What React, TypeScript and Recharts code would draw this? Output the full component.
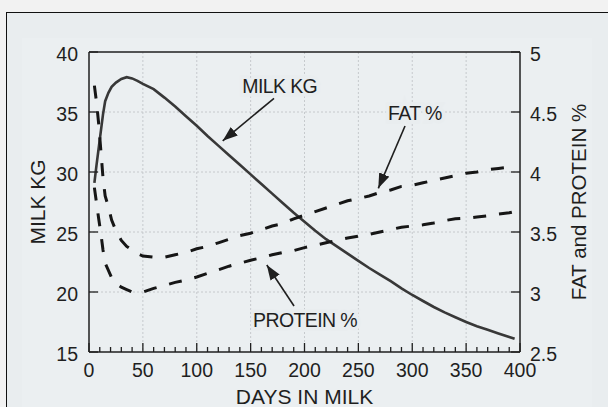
import React from 'react';
import { LineChart, Line, XAxis, YAxis, CartesianGrid, ReferenceLine, ReferenceDot, Label } from 'recharts';

const days = [5, 7, 9, 11, 13, 15, 18, 21, 25, 30, 35, 40, 45, 50, 60, 70, 80, 90, 100, 110, 120, 130, 140, 150, 160, 170, 180, 190, 200, 210, 220, 230, 240, 250, 260, 270, 280, 290, 300, 310, 320, 330, 340, 350, 360, 370, 380, 390, 395];
const milkKg = [29.1, 30.6, 32.0, 33.4, 34.8, 35.9, 36.6, 37.1, 37.45, 37.75, 37.9, 37.8, 37.6, 37.35, 36.9, 36.2, 35.45, 34.65, 33.85, 33.0, 32.2, 31.4, 30.6, 29.8, 29.0, 28.2, 27.4, 26.6, 25.85, 25.1, 24.4, 23.8, 23.2, 22.6, 22.0, 21.45, 20.9, 20.3, 19.75, 19.25, 18.75, 18.3, 17.9, 17.5, 17.15, 16.85, 16.55, 16.25, 16.1];
const fatPct = [4.72, 4.58, 4.4, 4.18, 3.95, 3.8, 3.71, 3.6, 3.51, 3.43, 3.38, 3.35, 3.32, 3.3, 3.29, 3.29, 3.31, 3.33, 3.36, 3.38, 3.41, 3.44, 3.47, 3.49, 3.52, 3.55, 3.57, 3.61, 3.64, 3.67, 3.7, 3.73, 3.76, 3.78, 3.8, 3.83, 3.85, 3.88, 3.89, 3.91, 3.93, 3.95, 3.97, 3.99, 4.0, 4.02, 4.03, 4.04, 4.04];
const proteinPct = [3.87, 3.74, 3.61, 3.49, 3.35, 3.24, 3.18, 3.12, 3.07, 3.04, 3.02, 3.0, 3.0, 3.0, 3.03, 3.055, 3.08, 3.1, 3.125, 3.155, 3.185, 3.215, 3.24, 3.265, 3.285, 3.31, 3.33, 3.345, 3.37, 3.39, 3.41, 3.43, 3.45, 3.465, 3.48, 3.5, 3.52, 3.54, 3.55, 3.56, 3.575, 3.595, 3.61, 3.615, 3.625, 3.635, 3.65, 3.66, 3.67];

const xTicks = Array.from({ length: 41 }, (_, i) => i * 10);
const leftTicks = [15, 20, 25, 30, 35, 40];
const rightTicks = [2.5, 3, 3.5, 4, 4.5, 5];
const gridDays = [50, 100, 150, 200, 250, 300, 350];
const gridKg = [20, 25, 30, 35];

const data = days.map((d, i) => ({ day: d, milk: milkKg[i], fat: fatPct[i], protein: proteinPct[i] }));

const FONT = '"Liberation Sans", Arial, Helvetica, sans-serif';
const BG = '#e9edef';
const INK = '#1f1f1f';

const XTick = (props: any) => {
  const { x, y, payload } = props;
  const v = payload.value;
  const major = v % 50 === 0;
  return (
    <g>
      <line x1={x} x2={x} y1={y} y2={y - (major ? 9 : 5)} stroke={INK} strokeWidth={1.3} />
      {major && (
        <text x={x} y={y + 25} textAnchor="middle" fontSize={19.5} fontFamily={FONT} fill={INK}>
          {v}
        </text>
      )}
    </g>
  );
};

const LeftTick = (props: any) => {
  const { x, y, payload } = props;
  return (
    <g>
      <line x1={x} x2={x + 9} y1={y} y2={y} stroke={INK} strokeWidth={1.3} />
      <text x={x - 11} y={y + 9} textAnchor="end" fontSize={19.5} fontFamily={FONT} fill={INK}>
        {payload.value}
      </text>
    </g>
  );
};

const RightTick = (props: any) => {
  const { x, y, payload } = props;
  return (
    <g>
      <line x1={x} x2={x - 9} y1={y} y2={y} stroke={INK} strokeWidth={1.3} />
      <text x={x + 10} y={y + 9} textAnchor="start" fontSize={19.5} fontFamily={FONT} fill={INK}>
        {payload.value}
      </text>
    </g>
  );
};

const annStyle = {
  fontSize: 19.5,
  fontFamily: FONT,
  fill: INK,
  letterSpacing: -0.6,
  stroke: BG,
  strokeWidth: 7,
  paintOrder: 'stroke',
} as any;

export default function App() {
  return (
    <div style={{ position: 'fixed', left: 0, top: 0, width: 608, height: 407, background: '#f2f2f2', overflow: 'hidden' }}>
      <div style={{ position: 'absolute', left: 6, top: 12, width: 700, height: 500, border: '1.5px solid #111', background: BG }} />
      <div style={{ position: 'absolute', left: 22, top: 38, width: 570, height: 400, background: '#ebeff1' }} />
      <svg width={0} height={0} style={{ position: 'absolute' }}>
        <defs>
          <marker id="arrowHead" markerUnits="userSpaceOnUse" markerWidth={15} markerHeight={11} refX={15} refY={5.5} orient="auto">
            <path d="M0,0 L15,5.5 L0,11 Z" fill={INK} />
          </marker>
        </defs>
      </svg>
      <div style={{ position: 'absolute', left: 0, top: 0 }}>
        <LineChart width={608} height={407} data={data} margin={{ top: 52, right: 0, bottom: 0, left: 0 }}>
          <CartesianGrid
            yAxisId="left"
            verticalValues={gridDays}
            horizontalValues={gridKg}
            stroke="#c2c5c8"
            strokeDasharray="2 2"
            strokeWidth={0.9}
          />
          <XAxis
            dataKey="day"
            type="number"
            domain={[0, 400]}
            ticks={xTicks}
            interval={0}
            height={55}
            tickSize={0}
            tickMargin={0}
            tickLine={false}
            tick={<XTick />}
            axisLine={{ stroke: INK, strokeWidth: 1.5 }}
          >
            <Label value="DAYS IN MILK" position="center" dy={17} style={{ fontSize: 21, fontFamily: FONT, fill: INK }} />
          </XAxis>
          <YAxis
            yAxisId="left"
            orientation="left"
            domain={[15, 40]}
            ticks={leftTicks}
            interval={0}
            width={89}
            tickSize={0}
            tickMargin={0}
            tickLine={false}
            tick={<LeftTick />}
            axisLine={{ stroke: INK, strokeWidth: 1.5 }}
          >
            <Label value="MILK KG" angle={-90} position="center" dx={-7} style={{ fontSize: 21, fontFamily: FONT, fill: INK, textAnchor: 'middle' }} />
          </YAxis>
          <YAxis
            yAxisId="right"
            orientation="right"
            domain={[2.5, 5]}
            ticks={rightTicks}
            interval={0}
            width={88}
            tickSize={0}
            tickMargin={0}
            tickLine={false}
            tick={<RightTick />}
            axisLine={{ stroke: INK, strokeWidth: 1.5 }}
          >
            <Label value="FAT and PROTEIN %" angle={-90} position="center" dx={15} style={{ fontSize: 20.5, fontFamily: FONT, fill: INK, textAnchor: 'middle' }} />
          </YAxis>
          <ReferenceLine yAxisId="left" y={40} stroke={INK} strokeWidth={1.5} />
          <Line yAxisId="left" type="linear" dataKey="milk" stroke="#383838" strokeWidth={2.6} dot={false} isAnimationActive={false} />
          <Line yAxisId="right" type="linear" dataKey="fat" stroke="#161616" strokeWidth={3} strokeDasharray="13 13" dot={false} isAnimationActive={false} />
          <Line yAxisId="right" type="linear" dataKey="protein" stroke="#161616" strokeWidth={3} strokeDasharray="13 13" dot={false} isAnimationActive={false} />
          <ReferenceLine yAxisId="left" segment={[{ x: 171.7, y: 36.14 }, { x: 124.1, y: 32.6 }]} stroke={INK} strokeWidth={1.6} markerEnd="url(#arrowHead)" />
          <ReferenceLine yAxisId="left" segment={[{ x: 293.3, y: 33.83 }, { x: 268.5, y: 28.64 }]} stroke={INK} strokeWidth={1.6} markerEnd="url(#arrowHead)" />
          <ReferenceLine yAxisId="left" segment={[{ x: 190.3, y: 18.83 }, { x: 165, y: 22.25 }]} stroke={INK} strokeWidth={1.6} markerEnd="url(#arrowHead)" />
          <ReferenceDot yAxisId="left" x={177} y={37.2} r={1} fill="none" stroke="none" label={{ value: 'MILK KG', position: 'center', style: annStyle }} />
          <ReferenceDot yAxisId="left" x={302.5} y={34.9} r={1} fill="none" stroke="none" label={{ value: 'FAT %', position: 'center', style: annStyle }} />
          <ReferenceDot yAxisId="left" x={200.5} y={17.67} r={1} fill="none" stroke="none" label={{ value: 'PROTEIN %', position: 'center', style: annStyle }} />
        </LineChart>
      </div>
    </div>
  );
}
